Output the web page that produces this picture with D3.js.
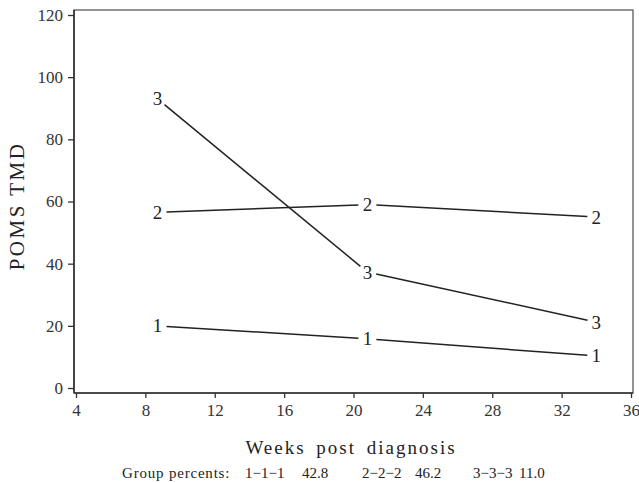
<!DOCTYPE html>
<html>
<head>
<meta charset="utf-8">
<script src="https://cdn.jsdelivr.net/npm/d3@7"></script>
<style>
  body { margin: 0; background: #fff; }
  svg { display: block; font-family: "Liberation Serif", "DejaVu Serif", serif; }
  svg text { font-family: "Liberation Serif", "DejaVu Serif", serif; }
</style>
</head>
<body>
<svg id="chart" width="639" height="483"></svg>
<script>
// data
const weeks = [8.7, 20.8, 34.0];
const groups = ['1', '2', '3'];
const groupValues = [
  [20.0, 15.8, 10.3],
  [56.5, 59.0, 55.0],
  [93.0, 37.3, 21.2]
];
const xTicks = [4, 8, 12, 16, 20, 24, 28, 32, 36];
const yTicks = [0, 20, 40, 60, 80, 100, 120];
const patterns = ['1\u22121\u22121', '2\u22122\u22122', '3\u22123\u22123'];
const percents = ['42.8', '46.2', '11.0'];

const svg = d3.select('#chart');
const frame = { left: 74, right: 633, top: 10, bottom: 393 };

const x = d3.scaleLinear().domain([4, 36]).range([76, 631]);
const y = d3.scaleLinear().domain([0, 120]).range([388, 15]);

// plot frame
svg.append('rect')
  .attr('x', frame.left).attr('y', frame.top)
  .attr('width', frame.right - frame.left)
  .attr('height', frame.bottom - frame.top)
  .attr('fill', 'none').attr('stroke', '#666').attr('stroke-width', 1.4);

const yAxis = svg.append('g')
  .attr('transform', `translate(${frame.left},0)`)
  .call(d3.axisLeft(y).tickValues(yTicks).tickSize(6).tickPadding(5));
const xAxis = svg.append('g')
  .attr('transform', `translate(0,${frame.bottom})`)
  .call(d3.axisBottom(x).tickValues(xTicks).tickSize(5).tickPadding(6));

[yAxis, xAxis].forEach((g) => {
  g.attr('font-family', null).attr('font-size', null);
  g.select('.domain').remove();
  g.selectAll('line').attr('stroke', '#333').attr('stroke-width', 1.3);
  g.selectAll('text')
    .style('font-family', '"Liberation Serif", serif')
    .style('font-size', '17px')
    .attr('fill', '#333');
});

svg.append('line')
  .attr('x1', frame.left).attr('x2', frame.left)
  .attr('y1', frame.top).attr('y2', frame.bottom)
  .attr('stroke', '#333').attr('stroke-width', 1.6);
svg.append('line')
  .attr('x1', frame.left).attr('x2', frame.right)
  .attr('y1', frame.bottom).attr('y2', frame.bottom)
  .attr('stroke', '#333').attr('stroke-width', 1.6);

// series: labels at points, segments with gaps around the labels
const gap = 9;
groupValues.forEach((vals, gi) => {
  const pts = vals.map((v, i) => [x(weeks[i]), y(v)]);
  for (let i = 0; i < pts.length - 1; i++) {
    const [x1, y1] = pts[i];
    const [x2, y2] = pts[i + 1];
    const len = Math.hypot(x2 - x1, y2 - y1);
    const ux = (x2 - x1) / len, uy = (y2 - y1) / len;
    svg.append('line')
      .attr('x1', x1 + ux * gap).attr('y1', y1 + uy * gap)
      .attr('x2', x2 - ux * gap).attr('y2', y2 - uy * gap)
      .attr('stroke', '#222').attr('stroke-width', 1.5);
  }
  svg.selectAll(null)
    .data(pts)
    .enter().append('text')
    .attr('x', (d) => d[0]).attr('y', (d) => d[1])
    .attr('text-anchor', 'middle')
    .attr('dominant-baseline', 'central')
    .attr('font-size', 19)
    .attr('fill', '#222')
    .text(groups[gi]);
});

// axis titles
svg.append('text')
  .attr('transform', 'translate(24,206) rotate(-90)')
  .attr('text-anchor', 'middle')
  .attr('font-size', 21)
  .attr('letter-spacing', 2.5)
  .attr('fill', '#222')
  .text('POMS TMD');

svg.append('text')
  .attr('x', 351).attr('y', 454)
  .attr('text-anchor', 'middle')
  .attr('font-size', 19)
  .attr('letter-spacing', 2)
  .attr('word-spacing', 4)
  .attr('fill', '#222')
  .text('Weeks post diagnosis');

// group percents footnote
const foot = svg.append('g').attr('font-size', 15).attr('fill', '#222');
foot.append('text').attr('x', 122).attr('y', 478)
  .attr('letter-spacing', 0.8).text('Group percents:');
const patX = [245, 362, 473];
const pctX = [302, 415, 519];
patterns.forEach((p, i) => {
  foot.append('text').attr('x', patX[i]).attr('y', 478).text(p);
  foot.append('text').attr('x', pctX[i]).attr('y', 478).text(percents[i]);
});
</script>
</body>
</html>
